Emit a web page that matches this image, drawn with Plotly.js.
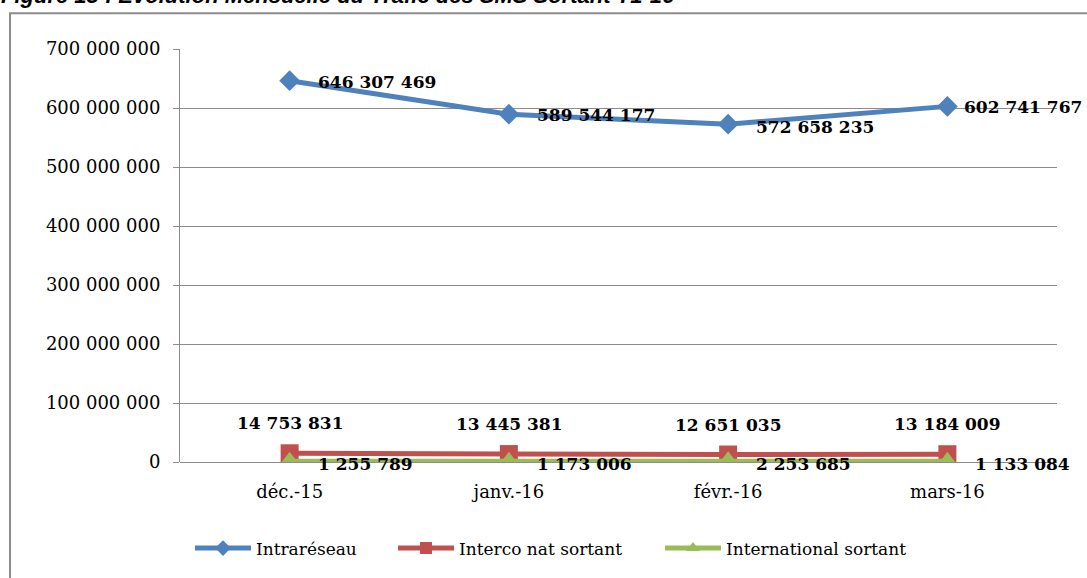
<!DOCTYPE html>
<html>
<head>
<meta charset="utf-8">
<script src="https://cdn.plot.ly/plotly-3.0.1.min.js"></script>
<style>html,body{margin:0;padding:0;background:#fff;}#chart{width:1087px;height:578px;}</style>
</head>
<body>
<div id="chart"></div>
<script>
var categories = ["déc.-15", "janv.-16", "févr.-16", "mars-16"];
var intrareseau = [646307469, 589544177, 572658235, 602741767];
var interco = [14753831, 13445381, 12651035, 13184009];
var international = [1255789, 1173006, 2253685, 1133084];
var seriesNames = ["Intraréseau", "Interco nat sortant", "International sortant"];
var titleText = "Figure 15 : Evolution Mensuelle du Trafic des SMS Sortant T1-16";

function fmt(v) {
  return String(v).replace(/\B(?=(\d{3})+(?!\d))/g, " ");
}

var blue = "#4F81BD", red = "#C0504D", green = "#9BBB59";
var serif = "DejaVu Serif";

var traces = [
  {x: categories, y: intrareseau, name: seriesNames[0], type: "scatter", mode: "lines+markers", legend: "legend",
   line: {color: blue, width: 5}, marker: {symbol: "diamond", size: 16, color: blue}},
  {x: categories, y: interco, name: seriesNames[1], type: "scatter", mode: "lines+markers", legend: "legend2",
   line: {color: red, width: 5}, marker: {symbol: "square", size: 18, color: red}},
  {x: categories, y: international, name: seriesNames[2], type: "scatter", mode: "lines+markers", legend: "legend3",
   line: {color: green, width: 5}, marker: {symbol: "triangle-up", size: 19, color: green}}
];

// label nudges (style only)
var intraShiftX = [26, 26, 26, 15];
var intraShiftY = [-1, -1, -3, -1];

var annotations = [];
var lblFont = {family: serif, size: 17, color: "#000", weight: "bold"};
categories.forEach(function (c, i) {
  annotations.push({x: c, y: intrareseau[i], text: fmt(intrareseau[i]), showarrow: false,
    xanchor: "left", yanchor: "middle", xshift: intraShiftX[i], yshift: intraShiftY[i], font: lblFont});
  annotations.push({x: c, y: interco[i], text: fmt(interco[i]), showarrow: false,
    xanchor: "center", yanchor: "middle", yshift: 30, font: lblFont});
  annotations.push({x: c, y: international[i], text: fmt(international[i]), showarrow: false,
    xanchor: "left", yanchor: "middle", xshift: 26, yshift: -3, font: lblFont});
});
annotations.push({xref: "paper", yref: "paper", x: -0.2052, y: 1.0964, xanchor: "left", yanchor: "bottom",
  text: "<b><i>" + titleText + "</i></b>", showarrow: false, borderpad: 0,
  font: {family: "Liberation Sans", size: 22, color: "#000"}});

function leg(xp) {
  return {orientation: "h", x: xp, xanchor: "left", y: -0.2096, yanchor: "middle", itemsizing: "constant",
    font: {family: serif, size: 17, color: "#000"}, itemwidth: 56, bgcolor: "rgba(0,0,0,0)"};
}

var layout = {
  width: 1087, height: 578,
  margin: {l: 180, r: 30, t: 49, b: 114},
  paper_bgcolor: "#fff", plot_bgcolor: "#fff",
  separators: ", ",
  showlegend: true,
  legend: leg(0.0114),
  legend2: leg(0.2429),
  legend3: leg(0.5473),
  xaxis: {type: "category", range: [-0.5, 3.5], showgrid: false, zeroline: false, showline: false,
    ticks: "", ticklabelstandoff: 17, tickfont: {family: serif, size: 18, color: "#000"}, fixedrange: true},
  yaxis: {range: [0, 700000000], dtick: 100000000, tickformat: ",d", showgrid: true, gridcolor: "#8c8c8c", gridwidth: 1,
    zeroline: true, zerolinecolor: "#8c8c8c", zerolinewidth: 1, showline: true, linecolor: "#8c8c8c", linewidth: 1,
    ticks: "outside", ticklen: 6, tickcolor: "#8c8c8c", ticklabelstandoff: 9,
    tickfont: {family: serif, size: 18, color: "#000"}, fixedrange: true},
  annotations: annotations,
  shapes: [{type: "rect", xref: "paper", yref: "paper", x0: -0.1938, x1: 1.05, y0: -0.30, y1: 1.0867,
    line: {color: "#8c8c8c", width: 2}, fillcolor: "rgba(0,0,0,0)", layer: "below"}],
  hovermode: false
};

Plotly.newPlot("chart", traces, layout, {displayModeBar: false, staticPlot: true});
</script>
</body>
</html>
